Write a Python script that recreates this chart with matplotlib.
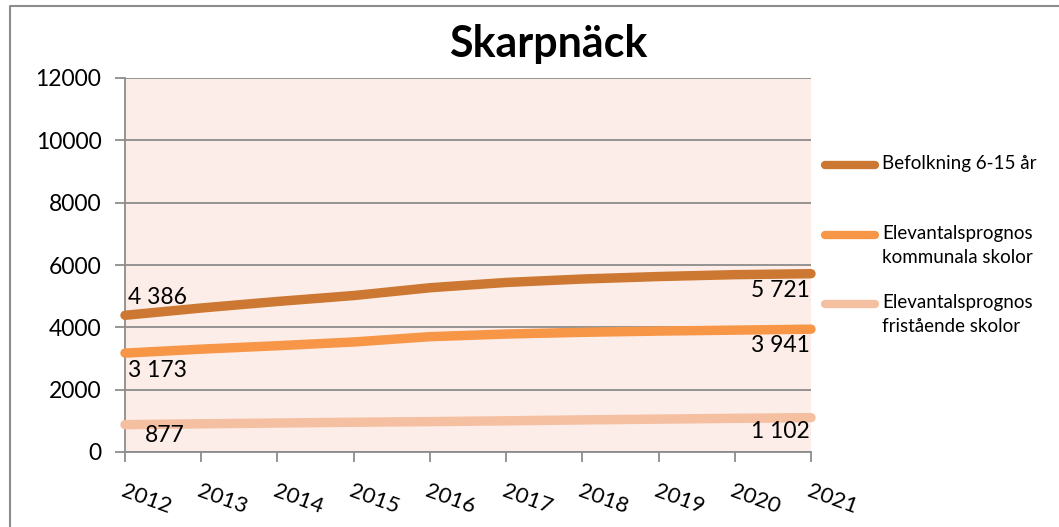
"""
Skarpnäck: befolkning 6-15 år och elevantalsprognoser 2012-2021.
"""

import matplotlib
matplotlib.use("Agg")
import matplotlib.pyplot as plt
from matplotlib.lines import Line2D

plt.rcParams['font.family'] = ['Lato', 'DejaVu Sans']

# Data
years = [2012, 2013, 2014, 2015, 2016, 2017, 2018, 2019, 2020, 2021]
befolkning = [4386, 4620, 4830, 5020, 5270, 5440, 5550, 5630, 5690, 5721]
kommunala = [3173, 3300, 3410, 3530, 3700, 3785, 3840, 3880, 3910, 3941]
fristaende = [877, 905, 930, 955, 975, 1000, 1030, 1055, 1080, 1102]

series_names = ["Befolkning 6-15 år",
                "Elevantalsprognos\nkommunala skolor",
                "Elevantalsprognos\nfristående skolor"]
series_colors = ["#CC7832", "#F79646", "#F5BFA2"]
yticks = [0, 2000, 4000, 6000, 8000, 10000, 12000]


def fmt(v):
    # swedish thousand separator (space)
    return f"{v:,}".replace(",", " ")


W, H = 1059, 527
fig = plt.figure(figsize=(W / 100, H / 100), dpi=100)
ax = fig.add_axes([125 / W, 1 - 452 / H, (811 - 125) / W, (452 - 78) / H])
ax.set_facecolor("#FCEDE8")

grid_col = "#8C8C8C"
for s, c in zip([befolkning, kommunala, fristaende], series_colors):
    ax.plot(years, s, color=c, lw=6.8, solid_capstyle='round', clip_on=False, zorder=3)

ax.set_xlim(years[0], years[-1])
ax.set_ylim(yticks[0], yticks[-1])
ax.set_yticks(yticks)
ax.set_xticks(years)
ax.set_xticklabels([str(y) for y in years], rotation=-20, ha='left',
                   rotation_mode='anchor', fontsize=16)
ax.tick_params(axis='x', direction='out', length=7, width=1.3, color=grid_col, pad=14)
ax.tick_params(axis='y', direction='out', length=7, width=1.3, color=grid_col,
               labelsize=16.5, pad=10)
ax.yaxis.grid(True, color=grid_col, lw=1.3)
ax.set_axisbelow(True)
for side in ['top', 'right']:
    ax.spines[side].set_visible(False)
for side in ['left', 'bottom']:
    ax.spines[side].set_color(grid_col)
    ax.spines[side].set_linewidth(1.3)

# data labels at first and last year
label_offsets = [((3, 18), (-1, -17)), ((3, -17), (-1, -16)), ((20, -11), (-1, -14))]
for s, (off0, off1) in zip([befolkning, kommunala, fristaende], label_offsets):
    ax.annotate(fmt(s[0]), (years[0], s[0]), xytext=off0, textcoords='offset pixels',
                ha='left', va='center', fontsize=16.5, zorder=4)
    ax.annotate(fmt(s[-1]), (years[-1], s[-1]), xytext=off1, textcoords='offset pixels',
                ha='right', va='center', fontsize=16.5, zorder=4)

fig.text(548 / W, 1 - 44 / H, "Skarpnäck", ha='center', va='center',
         fontsize=31, fontweight='bold')

# legend drawn by hand so the line sits on the first text row
leg_rows = [165, 235, 304]
for name, c, yy in zip(series_names, series_colors, leg_rows):
    yf = 1 - yy / H
    fig.add_artist(Line2D([825 / W, 875 / W], [yf, yf], color=c, lw=6,
                          solid_capstyle='round', transform=fig.transFigure))
    fig.text(882 / W, 1 - (yy - 10) / H, name, ha='left', va='top', fontsize=13.5,
             linespacing=1.5)

# outer frame (top and left edges visible)
fig.add_artist(Line2D([10 / W, 10 / W, 1], [0, 1 - 6 / H, 1 - 6 / H],
                      color="#8C8C8C", lw=1.5, transform=fig.transFigure))

fig.savefig("out.png", dpi=100)
